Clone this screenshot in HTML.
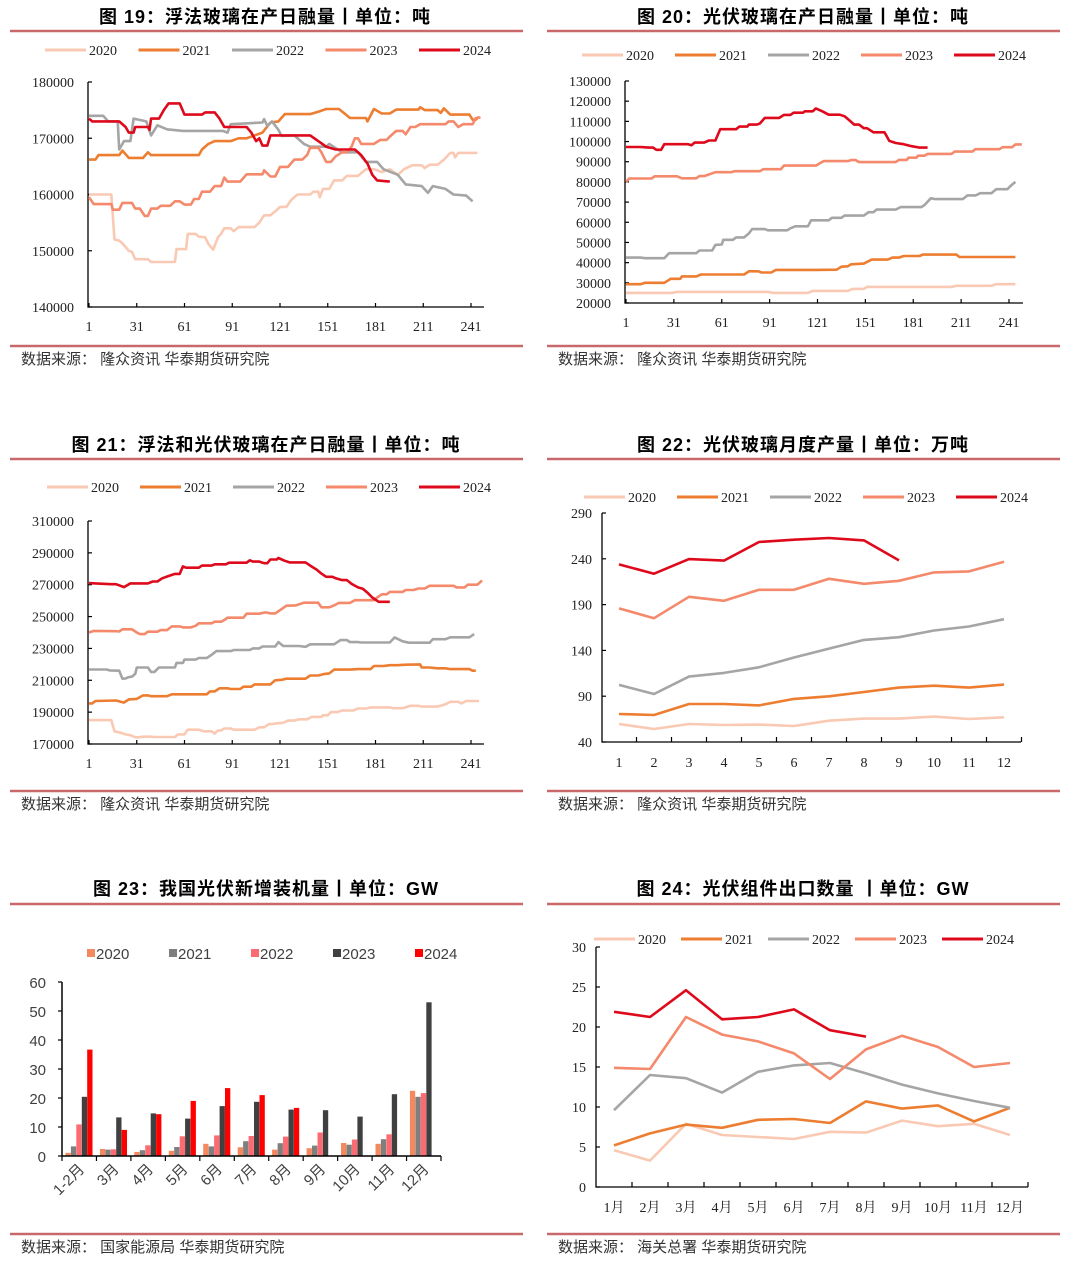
<!DOCTYPE html>
<html><head><meta charset="utf-8">
<style>
html,body{margin:0;padding:0;background:#fff;}
svg{display:block;}
.t{font-family:"Liberation Sans","Noto Sans CJK SC",sans-serif;font-weight:bold;font-size:18px;letter-spacing:1px;fill:#000;}
.src{font-family:"Liberation Sans","Noto Sans CJK SC",sans-serif;font-size:15px;fill:#333;}
.tk{font-family:"Liberation Serif","Noto Serif CJK SC",serif;font-size:14px;fill:#222;}
.tks{font-family:"Liberation Sans","Noto Sans CJK SC",sans-serif;font-size:15px;fill:#404040;}
</style></head>
<body>
<svg id="page" width="1080" height="1267" viewBox="0 0 1080 1267" xmlns="http://www.w3.org/2000/svg"></svg>
<script>
// ===== Data =====
const years = ["2020","2021","2022","2023","2024"];
const dayTicks = [1,31,61,91,121,151,181,211,241];
const monthCats = [1,2,3,4,5,6,7,8,9,10,11,12];
const monthLabels24 = ["1月","2月","3月","4月","5月","6月","7月","8月","9月","10月","11月","12月"];
const barCats = ["1-2月","3月","4月","5月","6月","7月","8月","9月","10月","11月","12月"];

// Fig 19 float glass daily (day, ton)
const f19_2020 = [[1,160000],[15,160000],[17,152000],[20,151800],[22,151300],[26,150000],[28,149800],[30,148500],[38,148500],[40,148000],[55,148000],[56,150300],[62,150300],[63,153000],[68,153000],[70,152500],[74,152400],[76,151200],[79,150200],[82,152400],[84,153000],[86,154000],[90,154000],[92,153500],[95,154200],[105,154200],[108,155000],[111,156300],[115,156300],[118,157000],[121,157800],[125,157800],[128,159000],[132,160000],[140,160000],[142,160500],[145,160500],[146,159500],[148,161000],[152,161000],[155,162500],[160,162500],[163,163300],[170,163300],[175,164500],[180,164500],[185,164000],[190,164500],[195,163500],[199,164500],[204,165200],[210,165200],[212,164700],[215,165300],[220,165300],[224,166200],[228,167400],[230,167400],[231,166600],[233,167400],[245,167400]];
const f19_2021 = [[1,166200],[5,166200],[7,167000],[20,167000],[22,167800],[26,166500],[35,166500],[38,167500],[40,167000],[70,167000],[72,168000],[76,169000],[80,169500],[90,169500],[95,170000],[100,170000],[102,170200],[110,171000],[115,172800],[120,173000],[124,174300],[140,174300],[145,174700],[150,175200],[158,175200],[162,174300],[165,173600],[175,173600],[176,173000],[180,175200],[185,174400],[190,174400],[194,175100],[208,175100],[209,175500],[212,175000],[220,175000],[222,174500],[224,175300],[228,174200],[240,174200],[242,173300],[244,173300],[246,173800]];
const f19_2022 = [[1,174000],[10,174000],[13,173000],[19,173000],[20,168000],[23,169500],[27,169500],[29,173500],[37,173000],[40,170500],[44,172300],[50,171600],[60,171300],[85,171300],[88,171000],[90,172500],[110,172800],[111,173400],[113,172200],[116,173000],[120,171500],[122,170400],[130,170500],[136,169000],[140,168500],[150,168500],[152,169000],[160,167500],[170,167500],[175,165800],[182,165800],[186,164500],[195,163500],[200,161800],[210,161500],[214,160300],[217,161500],[225,161000],[230,160000],[238,159800],[242,158800]];
const f19_2023 = [[1,159500],[4,158300],[15,158300],[16,157300],[20,157300],[22,158500],[28,158500],[30,157500],[33,157500],[36,156200],[38,156200],[40,157500],[44,157500],[46,158000],[52,158000],[55,158800],[58,158800],[61,158200],[65,158200],[67,159200],[70,159200],[72,160500],[77,160500],[80,161500],[84,161500],[86,163000],[88,162300],[96,162300],[100,163600],[110,163600],[111,164300],[115,163200],[118,163200],[121,164900],[126,164900],[130,166200],[135,166200],[138,167000],[140,168300],[145,168300],[147,167500],[150,165800],[153,165800],[156,166800],[160,167500],[163,167500],[166,168500],[168,170000],[170,170000],[172,169000],[180,169000],[184,169700],[188,169700],[190,170300],[194,171300],[198,171300],[200,170700],[203,172000],[206,172000],[209,172500],[225,172500],[227,173000],[230,173000],[233,172000],[236,172500],[242,172500],[244,173600],[247,173700]];
const f19_2024 = [[1,173500],[3,173000],[20,173000],[24,172000],[26,171000],[29,171000],[30,172000],[38,172000],[39,171500],[40,173500],[45,173500],[48,175000],[51,176200],[58,176200],[61,174200],[72,174200],[74,174600],[80,174600],[83,173500],[86,172000],[100,172000],[103,171000],[106,169500],[108,170000],[110,168700],[113,168700],[115,170500],[140,170500],[145,169500],[150,168500],[156,168000],[168,168000],[172,167000],[176,165500],[179,163500],[182,162500],[190,162300]];

// Fig 20 PV glass daily
const f20_2020 = [[1,25000],[30,25000],[33,25500],[90,25500],[93,25000],[115,25000],[118,26000],[140,26000],[143,27000],[150,27000],[152,28000],[205,28000],[208,28500],[230,28500],[233,29300],[245,29300]];
const f20_2021 = [[1,29300],[10,29300],[13,30000],[25,30000],[29,32000],[35,32000],[36,33200],[45,33200],[48,34100],[75,34100],[78,35700],[84,35700],[86,35100],[92,35100],[95,36400],[120,36400],[133,36500],[136,38000],[140,38200],[142,39200],[150,39500],[155,41500],[165,41500],[168,42500],[172,42500],[175,43300],[185,43300],[187,44000],[208,44000],[210,42800],[245,42800]];
const f20_2022 = [[1,42500],[10,42500],[13,42200],[25,42200],[28,44700],[45,44700],[47,46000],[55,46000],[57,48800],[61,49000],[62,51300],[68,51300],[70,52500],[75,52500],[78,54500],[80,56600],[88,56600],[90,56000],[102,56000],[104,57000],[107,58000],[115,58000],[117,61000],[128,61000],[130,62200],[136,62200],[138,63300],[150,63300],[153,65000],[156,65000],[158,66300],[170,66300],[173,67500],[186,67500],[188,68500],[192,71900],[195,71500],[212,71500],[215,73300],[220,73300],[223,74400],[230,74400],[233,76400],[240,76400],[242,78000],[245,80000]];
const f20_2023 = [[1,80000],[3,81700],[17,81700],[19,82800],[33,82800],[36,81800],[45,81800],[47,82900],[50,82900],[57,84800],[67,84800],[69,85300],[85,85300],[87,86300],[98,86300],[100,88100],[120,88100],[123,89500],[125,90300],[140,90300],[142,90800],[145,90800],[147,89800],[170,89800],[172,90900],[177,90900],[178,92000],[183,92000],[184,93000],[188,93000],[190,93900],[205,93900],[207,95000],[218,95000],[220,96200],[235,96200],[237,97200],[243,97200],[245,98600],[249,98600]];
const f20_2024 = [[1,97300],[10,97300],[15,97000],[18,97000],[20,95900],[23,95900],[25,98700],[40,98700],[42,98200],[44,99500],[50,99500],[53,100500],[57,100500],[60,106100],[70,106100],[72,107400],[77,107400],[78,108400],[83,108400],[85,109000],[88,111700],[97,111700],[100,113200],[104,113200],[106,114300],[112,114300],[113,115000],[118,115000],[120,116400],[124,115000],[128,113300],[135,113300],[138,112500],[141,110500],[144,108400],[147,108400],[150,106600],[152,106600],[156,104600],[163,104600],[166,100300],[170,99300],[175,98700],[180,97700],[185,97000],[190,97000]];

// Fig 21 float + PV daily
const f21_2020 = [[1,185000],[15,185000],[17,178000],[20,177300],[24,176000],[27,175500],[30,174300],[32,174200],[35,174600],[40,174600],[42,174400],[55,174400],[57,176000],[61,176000],[63,179000],[70,179000],[73,178000],[78,178000],[80,176500],[82,178500],[84,178500],[86,179700],[90,179700],[92,179000],[105,179000],[108,180500],[111,180500],[114,182500],[116,182500],[119,183000],[123,183300],[126,184700],[130,184700],[133,185500],[138,185500],[141,187000],[147,187000],[148,188000],[151,188000],[153,190000],[157,190000],[160,191000],[167,191000],[170,192300],[175,192300],[178,193000],[190,193000],[192,192500],[198,192500],[203,194000],[208,194000],[210,193500],[220,193500],[225,195000],[228,196500],[233,196500],[235,195500],[238,197000],[246,197000]];
const f21_2021 = [[1,195500],[3,195500],[5,197000],[18,197300],[23,196000],[26,198000],[31,198300],[35,200500],[38,200500],[40,200000],[50,200000],[53,201200],[75,201200],[77,203000],[80,203000],[83,205000],[88,205000],[90,204500],[96,204500],[98,206000],[103,206000],[105,207400],[115,207400],[118,210000],[122,210300],[125,211000],[137,211000],[140,213000],[145,213000],[149,214000],[152,214300],[155,216700],[165,216700],[170,217000],[178,217000],[180,219000],[186,219000],[190,219500],[195,219500],[200,219800],[209,220000],[210,218000],[215,218000],[220,217500],[225,217500],[228,217000],[240,217000],[242,216000],[244,216000]];
const f21_2022 = [[1,216800],[12,216800],[14,216200],[20,216000],[22,211000],[24,211200],[26,212000],[28,212300],[30,214000],[31,218000],[38,218000],[40,215200],[42,215200],[45,218000],[55,218000],[56,220900],[60,220900],[61,223000],[68,223000],[70,224000],[75,224000],[78,226000],[81,228300],[90,228300],[92,229000],[102,229000],[104,230000],[108,230000],[110,231200],[118,231200],[120,234000],[123,231500],[133,231500],[137,231000],[140,232600],[155,232600],[159,235200],[163,235200],[165,234000],[170,234000],[172,233700],[190,233700],[193,236900],[198,234500],[202,233600],[215,233600],[217,235800],[225,235800],[228,237000],[240,237000],[243,239000]];
const f21_2023 = [[1,240000],[4,241000],[18,240800],[20,240600],[22,242000],[28,242000],[31,240000],[33,239000],[36,239000],[38,240500],[44,240500],[46,241500],[50,241500],[53,243800],[58,243800],[60,243200],[65,243200],[68,244200],[70,245800],[78,245800],[80,246800],[84,246800],[86,247800],[88,249300],[98,249300],[100,251800],[108,251800],[112,252600],[115,252000],[118,252000],[121,254000],[125,256800],[131,257000],[136,258700],[145,258700],[147,255800],[152,255800],[155,257000],[158,258600],[165,258600],[168,260300],[180,260300],[182,262000],[185,264000],[188,264000],[190,265500],[198,265500],[200,266700],[205,266700],[208,267600],[212,267600],[215,269300],[230,269300],[232,268300],[237,268300],[239,270000],[245,270000],[248,272700]];
const f21_2024 = [[1,271000],[5,270800],[15,270300],[18,270300],[23,268500],[27,270800],[38,270800],[41,272000],[44,272000],[47,274000],[51,275500],[55,276800],[58,276800],[60,281500],[62,280700],[70,280700],[72,282000],[78,282000],[80,282800],[87,282800],[89,283800],[100,283800],[102,285300],[104,284500],[108,284500],[111,283500],[113,283500],[115,285800],[119,285800],[120,286800],[124,285000],[127,284000],[137,284000],[140,282000],[144,279500],[147,277000],[150,275000],[154,275000],[156,274000],[160,272900],[163,272900],[166,270500],[170,268300],[173,267500],[176,265000],[179,262000],[183,259300],[190,259300]];

// Fig 22 monthly PV glass output (万吨)
const f22_2020 = [59.7,54.2,59.7,58.6,59,57.5,63.3,65.5,65.5,67.7,65.1,67];
const f22_2021 = [70.6,69.5,81.5,81.5,80,87,89.9,94.6,99.4,101.5,99.4,102.7];
const f22_2022 = [102.3,92.4,111.4,115.4,121.6,132.2,142,151.5,154.4,161.7,166.1,174.1];
const f22_2023 = [185.8,175.2,198.5,194.2,206.2,206.2,218.2,212.7,216,225.1,226.2,236.8];
const f22_2024 = [233.9,223.7,239.7,238,258.3,260.9,262.7,260.1,238.3];

// Fig 23 new PV installations (GW)
const f23_2020 = [1.1,2.4,1.4,1.8,4.2,3.0,2.2,2.7,4.5,4.2,22.5];
const f23_2021 = [3.3,2.2,2.0,3.1,3.3,5.1,4.4,3.6,3.9,5.8,20.4];
const f23_2022 = [10.9,2.3,3.7,6.8,7.1,6.9,6.7,8.1,5.7,7.5,21.7];
const f23_2023 = [20.4,13.3,14.7,12.9,17.2,18.7,16.0,15.8,13.6,21.3,53.0];
const f23_2024 = [36.7,9.0,14.4,19.0,23.4,21.0,16.6];
const f23Ticks = [0,10,20,30,40,50,60];

// Fig 24 PV module exports (GW)
const f24_2020 = [4.6,3.3,7.9,6.5,6.25,6.0,6.9,6.8,8.3,7.6,7.9,6.5];
const f24_2021 = [5.2,6.7,7.8,7.4,8.4,8.5,8.0,10.7,9.8,10.2,8.2,9.9];
const f24_2022 = [9.6,14.0,13.6,11.8,14.4,15.2,15.5,14.2,12.8,11.7,10.75,9.9];
const f24_2023 = [14.9,14.75,21.25,19.05,18.2,16.7,13.5,17.2,18.9,17.5,15.0,15.5];
const f24_2024 = [21.9,21.25,24.6,20.96,21.25,22.2,19.6,18.8];

const lineColors = ["#f9c9b3","#ed7d31","#a5a5a5","#f4896b","#de0a1c"];
const barColors = ["#f4895f","#7f7f7f","#fc6b71","#404040","#ff0000"];

// ===== Helpers =====
const NS = "http://www.w3.org/2000/svg";
const svg = document.getElementById("page");
function mk(tag, attrs, parent){
  const e = document.createElementNS(NS, tag);
  for (const k in attrs) e.setAttribute(k, attrs[k]);
  (parent||svg).appendChild(e);
  return e;
}
function txt(s, attrs, parent){ const e = mk("text", attrs, parent); e.textContent = s; return e; }
function lin(v, d0, d1, p0, p1){ return p0 + (v-d0)/(d1-d0)*(p1-p0); }

function panelFrame(cx, x0, x1, titleY, titleLineY, title, srcLineY, srcText, id){
  const g = mk("g", {});
  
  
  const t = txt(title, {x:cx, y:titleY+6, "text-anchor":"middle", class:"t"}, g);
  
  
  const l1 = mk("line", {x1:x0, x2:x1, y1:titleLineY, y2:titleLineY, stroke:"#c9686a", "stroke-width":2.5}, g);
  
  
  const l2 = mk("line", {x1:x0, x2:x1, y1:srcLineY, y2:srcLineY, stroke:"#c9686a", "stroke-width":2.5}, g);
  
  
  const s = txt(srcText, {x:x0+11, y:srcLineY+18, class:"src"}, g);
  
  
  return g;
}

function lineLegend(g, lx, ly, step, id){
  years.forEach((y,i)=>{
    const x = lx + i*step;
    const ln = mk("line", {x1:x, x2:x+41, y1:ly, y2:ly, stroke:lineColors[i], "stroke-width":3}, g);
    
    
    const t = txt(y, {x:x+44, y:ly+5, class:"tk"}, g);
    
    
  });
}

function dailyChart(cfg, series, id){
  const g = cfg.g;
  const X = d => lin(d, 1, 241, cfg.x1, cfg.x241);
  const Y = v => lin(v, cfg.vmin, cfg.vmax, cfg.yBot, cfg.yTop);
  const ax = mk("path", {d:`M${cfg.axL},${cfg.yTop} V${cfg.yBot} H${cfg.axR}`, fill:"none", stroke:"#000", "stroke-width":1.3}, g);
  
  
  cfg.yTicks.forEach(v=>{
    const yy = Y(v);
    const tk = mk("line", {x1:cfg.axL, x2:cfg.axL+4, y1:yy, y2:yy, stroke:"#000", "stroke-width":1.2}, g);
    
    
    const t = txt(String(v), {x:cfg.axL-14, y:yy+5, "text-anchor":"end", class:"tk"}, g);
    
    
  });
  dayTicks.forEach(d=>{
    const xx = X(d);
    const tk = mk("line", {x1:xx, x2:xx, y1:cfg.yBot, y2:cfg.yBot-4, stroke:"#000", "stroke-width":1.2}, g);
    
    
    const t = txt(String(d), {x:xx, y:cfg.yBot+24, "text-anchor":"middle", class:"tk"}, g);
    
    
  });
  series.forEach((pts,i)=>{
    const d = pts.map((p,j)=>(j?"L":"M")+X(p[0]).toFixed(1)+","+Y(p[1]).toFixed(1)).join(" ");
    const p = mk("path", {d, fill:"none", stroke:lineColors[i], "stroke-width":2.6, "stroke-linejoin":"round"}, g);
    
    
  });
}

function monthChart(cfg, series, labels, id){
  const g = cfg.g;
  const X = i => lin(i, 0, 11, cfg.xc1, cfg.xc12);
  const Y = v => lin(v, cfg.vmin, cfg.vmax, cfg.yBot, cfg.yTop);
  const ax = mk("path", {d:`M${cfg.axL},${cfg.yTop} V${cfg.yBot} H${cfg.axR}`, fill:"none", stroke:"#000", "stroke-width":1.3}, g);
  
  
  cfg.yTicks.forEach(v=>{
    const yy = Y(v);
    const tk = mk("line", {x1:cfg.axL, x2:cfg.axL+4, y1:yy, y2:yy, stroke:"#000", "stroke-width":1.2}, g);
    
    
    const t = txt(String(v), {x:cfg.axL-10, y:yy+5, "text-anchor":"end", class:"tk"}, g);
    
    
  });
  const step = (cfg.xc12-cfg.xc1)/11;
  for (let k=1;k<=12;k++){
    const xx = cfg.xc1 - step/2 + k*step;
    const tk = mk("line", {x1:xx, x2:xx, y1:cfg.yBot, y2:cfg.yBot-5, stroke:"#000", "stroke-width":1.2}, g);
    
    
  }
  labels.forEach((s,i)=>{
    const t = txt(String(s), {x:X(i), y:cfg.yBot+25, "text-anchor":"middle", class:"tk"}, g);
    
    
  });
  series.forEach((vals,i)=>{
    const d = vals.map((v,j)=>(j?"L":"M")+X(j).toFixed(1)+","+Y(v).toFixed(1)).join(" ");
    const p = mk("path", {d, fill:"none", stroke:lineColors[i], "stroke-width":2.6, "stroke-linejoin":"round"}, g);
    
    
  });
}

// ===== Panels =====
const g19 = panelFrame(265, 10, 523, 17, 31, "图 19：浮法玻璃在产日融量丨单位：吨", 346, "数据来源：  隆众资讯 华泰期货研究院", "fig19");
lineLegend(g19, 45, 50, 93.5, "fig19");
dailyChart({g:g19, x1:89, x241:471, axL:88, axR:484, yTop:82, yBot:307, vmin:140000, vmax:180000, yTicks:[140000,150000,160000,170000,180000]},
  [f19_2020,f19_2021,f19_2022,f19_2023,f19_2024], "fig19");

const g20 = panelFrame(803, 547, 1060, 17, 31, "图 20：光伏玻璃在产日融量丨单位：吨", 346, "数据来源：  隆众资讯 华泰期货研究院", "fig20");
lineLegend(g20, 582, 55, 93, "fig20");
dailyChart({g:g20, x1:626, x241:1009, axL:625, axR:1023, yTop:81, yBot:303, vmin:20000, vmax:130000, yTicks:[20000,30000,40000,50000,60000,70000,80000,90000,100000,110000,120000,130000]},
  [f20_2020,f20_2021,f20_2022,f20_2023,f20_2024], "fig20");

const g21 = panelFrame(266, 10, 523, 445, 459, "图 21：浮法和光伏玻璃在产日融量丨单位：吨", 791, "数据来源：  隆众资讯 华泰期货研究院", "fig21");
lineLegend(g21, 47, 487, 93, "fig21");
dailyChart({g:g21, x1:89, x241:471, axL:88, axR:484, yTop:521, yBot:744, vmin:170000, vmax:310000, yTicks:[170000,190000,210000,230000,250000,270000,290000,310000]},
  [f21_2020,f21_2021,f21_2022,f21_2023,f21_2024], "fig21");

const g22 = panelFrame(803, 547, 1060, 445, 459, "图 22：光伏玻璃月度产量丨单位：万吨", 791, "数据来源：  隆众资讯 华泰期货研究院", "fig22");
lineLegend(g22, 584, 497, 93, "fig22");
monthChart({g:g22, xc1:619, xc12:1004, axL:602, axR:1021, yTop:513, yBot:742, vmin:40, vmax:290, yTicks:[40,90,140,190,240,290]},
  [f22_2020,f22_2021,f22_2022,f22_2023,f22_2024], monthCats, "fig22");

const g24 = panelFrame(803, 547, 1060, 889, 904, "图 24：光伏组件出口数量  丨单位：GW", 1234, "数据来源：  海关总署 华泰期货研究院", "fig24");
lineLegend(g24, 594, 939, 87, "fig24");
monthChart({g:g24, xc1:614, xc12:1010, axL:596, axR:1028, yTop:947, yBot:1187, vmin:0, vmax:30, yTicks:[0,5,10,15,20,25,30]},
  [f24_2020,f24_2021,f24_2022,f24_2023,f24_2024], monthLabels24, "fig24");

// Fig 23 bar chart
const g23 = panelFrame(266, 10, 523, 889, 904, "图 23：我国光伏新增装机量丨单位：GW", 1234, "数据来源：  国家能源局 华泰期货研究院", "fig23");
(function(){
  const g = g23;
  const axL = 62, axR = 441, yTop = 982, yBot = 1156;
  const gw = (axR-axL)/barCats.length;
  const Y = v => lin(v, 0, 60, yBot, yTop);
  years.forEach((y,i)=>{
    const x = 91 + i*82;
    const r = mk("rect", {x:x-4, y:949, width:8, height:8, fill:barColors[i]}, g);
    
    
    const t = txt(y, {x:x+5, y:959, class:"tks"}, g);
    
    
  });
  const series = [f23_2020,f23_2021,f23_2022,f23_2023,f23_2024];
  series.forEach((vals,si)=>{
    vals.forEach((v,ci)=>{
      const x = axL + ci*gw + 3.4 + si*5.45;
      const r = mk("rect", {x:x.toFixed(1), y:Y(v).toFixed(1), width:5.3, height:(yBot-Y(v)).toFixed(1), fill:barColors[si]}, g);
      
      
    });
  });
  const ax = mk("path", {d:`M${axL},${yTop} V${yBot} H${axR}`, fill:"none", stroke:"#000", "stroke-width":1.5}, g);
  
  
  f23Ticks.forEach(v=>{
    const yy = Y(v);
    const tk = mk("line", {x1:axL-4, x2:axL, y1:yy, y2:yy, stroke:"#000", "stroke-width":1.2}, g);
    
    
    const t = txt(String(v), {x:axL-16, y:yy+6, "text-anchor":"end", class:"tks"}, g);
    
    
  });
  for (let k=0;k<=barCats.length;k++){
    const xx = axL + k*gw;
    const tk = mk("line", {x1:xx, x2:xx, y1:yBot, y2:yBot+5, stroke:"#000", "stroke-width":1.2}, g);
    
    
  }
  barCats.forEach((c,i)=>{
    const cx = axL + (i+0.5)*gw + 6;
    const cy = yBot + 14;
    const t = txt(c, {x:cx, y:cy, "text-anchor":"end", class:"tks", transform:`rotate(-45 ${cx} ${cy})`}, g);
    
    
  });
})();
</script>
</body></html>
